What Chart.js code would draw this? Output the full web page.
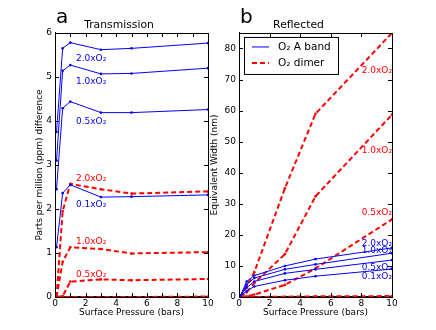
<!DOCTYPE html>
<html>
<head>
<meta charset="utf-8">
<script src="https://cdn.jsdelivr.net/npm/chart.js@4.4.1/dist/chart.umd.min.js"></script>
<style>
body { margin: 0; background: #fff; }
#wrap { position: relative; width: 436px; height: 330px; }
canvas { position: absolute; top: 0; }
#chartA { left: 0; }
#chartB { left: 200px; }
</style>
</head>
<body>
<div id="wrap">
<canvas id="chartA" width="218" height="330"></canvas>
<canvas id="chartB" width="236" height="330"></canvas>
</div>
<script>
// surface pressures (bars) and O2 multipliers
var pressures = [0.1, 0.5, 1, 3, 5, 10];
var ratios = ['2.0', '1.0', '0.5', '0.1'];

// transmission, ppm difference
var transA_2 = [3.75, 5.65, 5.78, 5.62, 5.65, 5.77];
var transA_1 = [3.1, 5.14, 5.27, 5.07, 5.08, 5.2];
var transA_05 = [2.45, 4.29, 4.44, 4.19, 4.19, 4.26];
var transA_01 = [1.13, 2.36, 2.55, 2.27, 2.28, 2.32];
var transD_2 = [0, 1.95, 2.57, 2.45, 2.35, 2.4];
var transD_1 = [0, 0.8, 1.13, 1.09, 0.99, 1.02];
var transD_05 = [0, 0.02, 0.35, 0.4, 0.38, 0.41];
var transD_01 = [0, 0, 0, 0, 0, 0.01];

// reflected, equivalent width (nm)
var reflA_2 = [0.5, 5.0, 6.9, 10, 12.2, 15.8];
var reflA_1 = [0.5, 4.0, 6.1, 8.9, 10.5, 14.1];
var reflA_05 = [0.4, 3.0, 5.0, 7.6, 8.9, 11.9];
var reflA_01 = [0.3, 1.9, 3.4, 5.4, 6.7, 9.0];
var reflD_2 = [0, 3.5, 8, 35, 59, 85];
var reflD_1 = [0, 1.5, 4.5, 13.8, 32.4, 58.7];
var reflD_05 = [0, 0.2, 0.8, 3.9, 9.2, 25];
var reflD_01 = [0, 0, 0, 0.1, 0.2, 0.3];

var BLUE = '#0000ff';
var RED = '#ff0000';
var FONT = 'DejaVu Sans';

function pts(vals) {
    return vals.map(function (v, i) { return { x: pressures[i], y: v }; });
}

function bandSet(vals) {
    return { data: pts(vals), borderColor: BLUE, backgroundColor: BLUE, borderWidth: 1,
        pointRadius: 1.3, pointBorderWidth: 0, tension: 0 };
}

function dimerSet(vals) {
    return { data: pts(vals), borderColor: RED, backgroundColor: RED, borderWidth: 2,
        borderDash: [5, 3], pointRadius: 1.3, pointBorderWidth: 0, tension: 0 };
}

var framePlugin = {
    id: 'frame',
    afterDatasetsDraw: function (chart, args, opts) {
        var ctx = chart.ctx, a = chart.chartArea;
        var sx = chart.scales.x, sy = chart.scales.y;
        ctx.save();
        ctx.strokeStyle = '#000';
        ctx.lineWidth = 1;
        ctx.strokeRect(Math.round(a.left) + 0.5, Math.round(a.top) + 0.5,
            Math.round(a.right - a.left), Math.round(a.bottom - a.top));
        ctx.beginPath();
        sx.ticks.forEach(function (t) {
            var px = Math.round(sx.getPixelForValue(t.value)) + 0.5;
            ctx.moveTo(px, a.bottom); ctx.lineTo(px, a.bottom - 4);
            ctx.moveTo(px, a.top); ctx.lineTo(px, a.top + 4);
        });
        sy.ticks.forEach(function (t) {
            var py = Math.round(sy.getPixelForValue(t.value)) + 0.5;
            ctx.moveTo(a.left, py); ctx.lineTo(a.left + 4, py);
            ctx.moveTo(a.right, py); ctx.lineTo(a.right - 4, py);
        });
        ctx.stroke();

        // panel letter
        ctx.fillStyle = '#000';
        ctx.font = '20px ' + FONT;
        ctx.textBaseline = 'alphabetic';
        ctx.textAlign = 'left';
        ctx.fillText(opts.letter, a.left + 1, 23);

        // curve labels
        ctx.font = '9px ' + FONT;
        ctx.textBaseline = 'middle';
        opts.labels.forEach(function (l) {
            ctx.fillStyle = l.color;
            ctx.textAlign = l.align;
            ctx.fillText(l.text, sx.getPixelForValue(l.x), sy.getPixelForValue(l.y));
        });

        if (opts.legend) {
            var lx = a.left + 5, ly = a.top + 4;
            ctx.fillStyle = '#fff';
            ctx.fillRect(lx, ly, 94, 37);
            ctx.strokeRect(lx + 0.5, ly + 0.5, 94, 37);
            ctx.beginPath();
            ctx.strokeStyle = BLUE;
            ctx.lineWidth = 1;
            ctx.moveTo(lx + 8, ly + 10); ctx.lineTo(lx + 25, ly + 10);
            ctx.stroke();
            ctx.beginPath();
            ctx.strokeStyle = RED;
            ctx.lineWidth = 2;
            ctx.setLineDash([5, 3]);
            ctx.moveTo(lx + 8, ly + 26); ctx.lineTo(lx + 25, ly + 26);
            ctx.stroke();
            ctx.setLineDash([]);
            ctx.fillStyle = '#000';
            ctx.textAlign = 'left';
            ctx.font = '10.5px ' + FONT;
            ctx.fillText('O\u2082 A band', lx + 34, ly + 10);
            ctx.fillText('O\u2082 dimer', lx + 34, ly + 26);
        }
        ctx.restore();
    }
};

function makeScales(xStep, xEvenOnly, yMax, yStep, yTitle, yWidth) {
    var tickFont = { family: FONT, size: 9 };
    return {
        x: {
            type: 'linear', min: 0, max: 10,
            ticks: { stepSize: xStep, autoSkip: false, maxRotation: 0, padding: 1, color: '#000', font: tickFont,
                callback: function (v) { return (!xEvenOnly || v % 2 === 0) ? v : ''; } },
            grid: { display: false, drawTicks: false },
            border: { display: true, color: '#000' },
            title: { display: true, text: 'Surface Pressure (bars)', color: '#000', font: tickFont,
                padding: { top: 0, bottom: 4 } },
            afterFit: function (s) { s.height = 25.4; }
        },
        y: {
            type: 'linear', min: 0, max: yMax,
            ticks: { stepSize: yStep, padding: 3, color: '#000', font: tickFont },
            afterBuildTicks: function (s) {
                s.ticks = s.ticks.filter(function (t) { return t.value % yStep === 0; });
            },
            grid: { display: false, drawTicks: false },
            border: { display: true, color: '#000' },
            title: { display: true, text: yTitle, color: '#000', font: tickFont,
                padding: { top: 4, bottom: 4 } },
            afterFit: function (s) { s.width = yWidth; }
        }
    };
}

function titleOpts(text) {
    return { display: true, text: text, color: '#000', font: { family: FONT, size: 10.8, weight: 'normal' },
        padding: { top: 18.5, bottom: 1.5 } };
}

var transLabels = [
    { text: ratios[0] + 'xO\u2082', x: 1.37, y: 5.41, color: BLUE, align: 'left' },
    { text: ratios[1] + 'xO\u2082', x: 1.37, y: 4.9, color: BLUE, align: 'left' },
    { text: ratios[2] + 'xO\u2082', x: 1.37, y: 3.98, color: BLUE, align: 'left' },
    { text: ratios[3] + 'xO\u2082', x: 1.37, y: 2.1, color: BLUE, align: 'left' },
    { text: ratios[0] + 'xO\u2082', x: 1.37, y: 2.7, color: RED, align: 'left' },
    { text: ratios[1] + 'xO\u2082', x: 1.37, y: 1.26, color: RED, align: 'left' },
    { text: ratios[2] + 'xO\u2082', x: 1.37, y: 0.5, color: RED, align: 'left' }
];

var reflLabels = [
    { text: ratios[0] + 'xO\u2082', x: 10, y: 72.9, color: RED, align: 'right' },
    { text: ratios[1] + 'xO\u2082', x: 10, y: 47, color: RED, align: 'right' },
    { text: ratios[2] + 'xO\u2082', x: 10, y: 27, color: RED, align: 'right' },
    { text: ratios[0] + 'xO\u2082', x: 10, y: 17.3, color: BLUE, align: 'right' },
    { text: ratios[1] + 'xO\u2082', x: 10, y: 14.9, color: BLUE, align: 'right' },
    { text: ratios[2] + 'xO\u2082', x: 10, y: 9.6, color: BLUE, align: 'right' },
    { text: ratios[3] + 'xO\u2082', x: 10, y: 6.4, color: BLUE, align: 'right' }
];

new Chart(document.getElementById('chartA'), {
    type: 'line',
    data: {
        datasets: [
            bandSet(transA_2), bandSet(transA_1), bandSet(transA_05), bandSet(transA_01),
            dimerSet(transD_2), dimerSet(transD_1), dimerSet(transD_05), dimerSet(transD_01)
        ]
    },
    options: {
        responsive: false,
        animation: false,
        layout: { padding: { left: 30, right: 10, top: 0, bottom: 7.6 } },
        scales: makeScales(1, true, 6, 1, 'Parts per million (ppm) difference', 25),
        plugins: {
            legend: { display: false },
            tooltip: { enabled: false },
            title: titleOpts('Transmission'),
            frame: { letter: 'a', labels: transLabels, legend: false }
        }
    },
    plugins: [framePlugin]
});

new Chart(document.getElementById('chartB'), {
    type: 'line',
    data: {
        datasets: [
            bandSet(reflA_2), bandSet(reflA_1), bandSet(reflA_05), bandSet(reflA_01),
            dimerSet(reflD_2), dimerSet(reflD_1), dimerSet(reflD_05), dimerSet(reflD_01)
        ]
    },
    options: {
        responsive: false,
        animation: false,
        layout: { padding: { left: 5, right: 44, top: 0, bottom: 7.6 } },
        scales: makeScales(2, false, 85, 10, 'Equivalent Width (nm)', 34),
        plugins: {
            legend: { display: false },
            tooltip: { enabled: false },
            title: titleOpts('Reflected'),
            frame: { letter: 'b', labels: reflLabels, legend: true }
        }
    },
    plugins: [framePlugin]
});
</script>
</body>
</html>
